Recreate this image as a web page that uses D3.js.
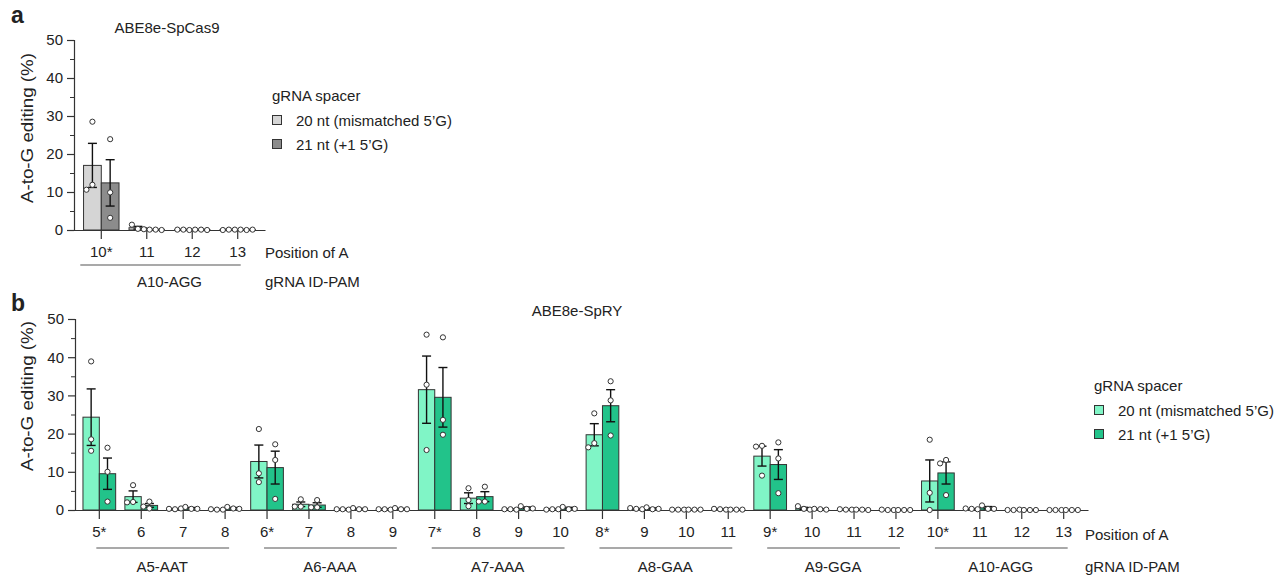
<!DOCTYPE html>
<html>
<head>
<meta charset="utf-8">
<script src="https://cdn.jsdelivr.net/npm/d3@7"></script>
<style>
  body { margin: 0; background: #fff; }
  svg text { font-family: Arial, "Liberation Sans", sans-serif; fill: #222; }
</style>
</head>
<body>
<svg id="chart" width="1277" height="575"></svg>
<script>
// ---- panel a: ABE8e-SpCas9 ----
const posA = ["10*", "11", "12", "13"];
const groupsA = ["A10-AGG"];
const meanA20 = [17.0, 0.6, 0.1, 0.1];
const semA20 = [5.8, 0.35, 0.05, 0.05];
const ptsA20 = [[28.5, 11.9, 10.6], [0.3, 1.4, 0.2], [0.1, 0.1, 0.0], [0.1, 0.0, 0.1]];
const meanA21 = [12.4, 0.1, 0.1, 0.1];
const semA21 = [6.1, 0.05, 0.05, 0.05];
const ptsA21 = [[23.9, 9.9, 3.2], [0.1, 0.1, 0.0], [0.1, 0.1, 0.0], [0.0, 0.1, 0.1]];

// ---- panel b: ABE8e-SpRY ----
const posB = ["5*", "6", "7", "8", "6*", "7", "8", "9", "7*", "8", "9", "10",
              "8*", "9", "10", "11", "9*", "10", "11", "12", "10*", "11", "12", "13"];
const groupsB = ["A5-AAT", "A6-AAA", "A7-AAA", "A8-GAA", "A9-GGA", "A10-AGG"];
const meanB20 = [24.3, 3.5, 0.3, 0.1, 12.7, 1.5, 0.2, 0.2, 31.5, 3.1, 0.2, 0.2,
                 19.7, 0.3, 0.1, 0.2, 14.1, 0.4, 0.1, 0.0, 7.6, 0.3, 0.0, 0.0];
const semB20 = [7.4, 1.5, 0.06, 0.03, 4.3, 0.6, 0.05, 0.05, 8.8, 1.4, 0.05, 0.05,
                2.9, 0.06, 0.03, 0.05, 2.6, 0.3, 0.03, 0.0, 5.5, 0.05, 0.0, 0.0];
const ptsB20 = [[38.9, 18.5, 15.5], [6.5, 2.1, 2.0], [0.2, 0.3, 0.4], [0.1, 0.2, 0.1],
                [21.2, 9.6, 7.3], [2.8, 0.9, 0.9], [0.2, 0.2, 0.1], [0.2, 0.2, 0.1],
                [45.9, 32.8, 15.7], [5.7, 2.6, 1.0], [0.2, 0.2, 0.1], [0.2, 0.1, 0.2],
                [25.3, 17.5, 16.4], [0.3, 0.5, 0.2], [0.1, 0.1, 0.1], [0.2, 0.3, 0.1],
                [16.8, 16.6, 9.0], [0.3, 1.0, 0.1], [0.1, 0.2, 0.1], [0.0, 0.1, 0.0],
                [18.4, 4.5, 0.0], [0.3, 0.4, 0.2], [0.0, 0.0, 0.1], [0.0, 0.0, 0.0]];
const meanB21 = [9.5, 1.2, 0.5, 0.5, 11.1, 1.3, 0.3, 0.3, 29.5, 3.5, 0.6, 0.5,
                 27.3, 0.4, 0.1, 0.1, 11.9, 0.2, 0.1, 0.0, 9.7, 0.6, 0.0, 0.0];
const semB21 = [4.1, 0.5, 0.15, 0.15, 4.3, 0.6, 0.1, 0.1, 7.8, 1.3, 0.2, 0.2,
                4.2, 0.15, 0.03, 0.03, 3.9, 0.05, 0.03, 0.0, 2.9, 0.3, 0.0, 0.0];
const ptsB21 = [[16.3, 10.0, 2.2], [2.2, 0.9, 0.4], [0.3, 0.8, 0.3], [0.4, 0.8, 0.3],
                [17.2, 13.1, 2.9], [2.6, 0.7, 0.7], [0.2, 0.5, 0.2], [0.2, 0.5, 0.2],
                [45.2, 23.6, 19.7], [6.1, 2.2, 2.2], [0.3, 1.0, 0.4], [0.2, 0.8, 0.3],
                [33.7, 28.7, 19.5], [0.2, 0.7, 0.3], [0.1, 0.1, 0.1], [0.1, 0.1, 0.1],
                [17.7, 13.5, 4.4], [0.2, 0.3, 0.1], [0.1, 0.1, 0.0], [0.0, 0.0, 0.0],
                [13.1, 12.2, 3.9], [0.3, 1.2, 0.3], [0.0, 0.0, 0.0], [0.0, 0.0, 0.0]];

const legendLabels = ["20 nt (mismatched 5\u2019G)", "21 nt (+1 5\u2019G)"];
const yMajor = [0, 10, 20, 30, 40, 50];
const yMinor = [5, 15, 25, 35, 45];

const svg = d3.select("#chart");
const FS = 15;
const ink = "#333";

// spread overlapping replicate dots sideways (like a scatter with spread)
function swarm(vals, y, r) {
    const placed = [];
    const step = 2 * r + 0.8;
    return vals.map(v => {
        const py = y(v);
        for (const dx of [0, -step, step, -2 * step, 2 * step]) {
            if (placed.every(p => Math.hypot(p[0] - dx, p[1] - py) >= 2 * r + 0.6)) {
                placed.push([dx, py]);
                return dx;
            }
        }
        placed.push([0, py]);
        return 0;
    });
}

function drawPanel(o) {
    const g = svg.append("g");
    const n = o.pos.length;

    const x = d3.scaleBand()
        .domain(d3.range(n))
        .range([o.x0, o.x1])
        .paddingInner(0)
        .paddingOuter(o.padOuter);
    const y = d3.scaleLinear().domain([0, 50]).range([o.yBottom, o.yTop]);
    const cx = i => x(i) + x.bandwidth() / 2;
    const barW = x.step() * 0.39;

    // y axis
    const yAx = g.append("g")
        .attr("transform", `translate(${o.x0},0)`)
        .call(d3.axisLeft(y).tickValues(yMajor).tickSize(7).tickPadding(4));
    g.append("g")
        .attr("transform", `translate(${o.x0},0)`)
        .attr("color", ink)
        .call(d3.axisLeft(y).tickValues(yMinor).tickSize(4).tickFormat(""))
        .call(s => s.select(".domain").remove());

    // bars
    o.series.forEach((s, si) => {
        const off = si === 0 ? -barW : 0;
        g.append("g").selectAll("rect")
            .data(s.mean)
            .enter()
            .append("rect")
            .attr("x", (d, i) => cx(i) + off)
            .attr("y", d => y(d))
            .attr("width", barW)
            .attr("height", d => o.yBottom - y(d))
            .attr("fill", s.color)
            .attr("stroke", ink)
            .attr("stroke-width", 1);
    });

    // mean +- SEM
    o.series.forEach((s, si) => {
        const mid = si === 0 ? -barW / 2 : barW / 2;
        const eg = g.append("g").attr("stroke", "#111").attr("stroke-width", 1.4);
        s.mean.forEach((m, i) => {
            const e = s.sem[i];
            if (e <= 0) return;
            const xc = cx(i) + mid;
            eg.append("line").attr("x1", xc).attr("x2", xc).attr("y1", y(m - e)).attr("y2", y(m + e));
            eg.append("line").attr("x1", xc - 4.5).attr("x2", xc + 4.5).attr("y1", y(m + e)).attr("y2", y(m + e));
            eg.append("line").attr("x1", xc - 4.5).attr("x2", xc + 4.5).attr("y1", y(m - e)).attr("y2", y(m - e));
        });
    });

    // x axis (after bars so the baseline sits on top)
    const xAx = g.append("g")
        .attr("transform", `translate(0,${o.yBottom})`)
        .call(d3.axisBottom(x).tickFormat(i => o.pos[i]).tickSize(9).tickSizeOuter(0).tickPadding(7));

    [yAx, xAx].forEach(a => {
        a.attr("color", ink).attr("font-size", FS).attr("font-family", null);
        a.selectAll("path, line").attr("stroke-width", 1.2);
    });

    // replicate dots
    o.series.forEach((s, si) => {
        const mid = si === 0 ? -barW / 2 : barW / 2;
        const r = 2.6;
        const pg = g.append("g");
        s.pts.forEach((vals, i) => {
            const dxs = swarm(vals, y, r);
            vals.forEach((v, k) => {
                pg.append("circle")
                    .attr("cx", cx(i) + mid + dxs[k])
                    .attr("cy", y(v))
                    .attr("r", r)
                    .attr("fill", "#fff")
                    .attr("stroke", ink)
                    .attr("stroke-width", 1);
            });
        });
    });

    // gRNA groups under the positions
    o.groups.forEach((name, gi) => {
        const a = gi * 4, b = gi * 4 + 3;
        g.append("line")
            .attr("x1", cx(a) + o.lineL).attr("x2", cx(b) + o.lineR)
            .attr("y1", o.yBottom + o.lineDy).attr("y2", o.yBottom + o.lineDy)
            .attr("stroke", "#555").attr("stroke-width", 1.2);
        g.append("text")
            .attr("x", (cx(a) + cx(b)) / 2)
            .attr("y", o.yBottom + o.groupDy)
            .attr("text-anchor", "middle")
            .attr("dominant-baseline", "central")
            .attr("font-size", FS)
            .text(name);
    });

    g.append("text").attr("x", o.rowX).attr("y", o.yBottom + o.posDy)
        .attr("dominant-baseline", "central").attr("font-size", FS).text("Position of A");
    g.append("text").attr("x", o.rowX).attr("y", o.yBottom + o.groupDy)
        .attr("dominant-baseline", "central").attr("font-size", FS).text("gRNA ID-PAM");

    // y label
    g.append("text")
        .attr("transform", `translate(27,${o.yLabelY}) rotate(-90)`)
        .attr("text-anchor", "middle")
        .attr("dominant-baseline", "central")
        .attr("font-size", 16.5)
        .attr("textLength", 150)
        .attr("lengthAdjust", "spacingAndGlyphs")
        .text("A-to-G editing (%)");

    // title + panel letter
    g.append("text").attr("x", o.titleX).attr("y", o.titleY)
        .attr("text-anchor", "middle").attr("dominant-baseline", "central")
        .attr("font-size", FS).text(o.title);
    g.append("text").attr("x", 11).attr("y", o.letterY)
        .attr("font-size", 23).attr("font-weight", "bold").text(o.letter);

    // legend
    const lg = g.append("g").attr("transform", `translate(${o.legX},${o.legY})`);
    lg.append("text").attr("x", 0).attr("y", 0)
        .attr("dominant-baseline", "central").attr("font-size", FS).text("gRNA spacer");
    o.series.forEach((s, si) => {
        const ly = 25 + si * 24;
        lg.append("rect").attr("x", 0.5).attr("y", ly - 4.5).attr("width", 9).attr("height", 9)
            .attr("fill", s.color).attr("stroke", ink).attr("stroke-width", 1);
        lg.append("text").attr("x", 24).attr("y", ly)
            .attr("dominant-baseline", "central").attr("font-size", FS).text(legendLabels[si]);
    });
}

drawPanel({
    letter: "a", letterY: 23, title: "ABE8e-SpCas9", titleX: 167, titleY: 27,
    x0: 74, x1: 265, yTop: 40, yBottom: 230, padOuter: 0.1, yLabelY: 128,
    pos: posA, groups: groupsA,
    lineL: -21, lineR: 3, lineDy: 35, groupDy: 51, posDy: 22, rowX: 265,
    legX: 272, legY: 95,
    series: [
        {mean: meanA20, sem: semA20, pts: ptsA20, color: "#d5d5d5"},
        {mean: meanA21, sem: semA21, pts: ptsA21, color: "#8c8c8c"}
    ]
});

drawPanel({
    letter: "b", letterY: 311, title: "ABE8e-SpRY", titleX: 577, titleY: 310,
    x0: 75, x1: 1088, yTop: 319, yBottom: 510, padOuter: 0.08, yLabelY: 396,
    pos: posB, groups: groupsB,
    lineL: -3, lineR: 4, lineDy: 38, groupDy: 56, posDy: 24, rowX: 1085,
    legX: 1094, legY: 385,
    series: [
        {mean: meanB20, sem: semB20, pts: ptsB20, color: "#80f5c6"},
        {mean: meanB21, sem: semB21, pts: ptsB21, color: "#22c38a"}
    ]
});
</script>
</body>
</html>
